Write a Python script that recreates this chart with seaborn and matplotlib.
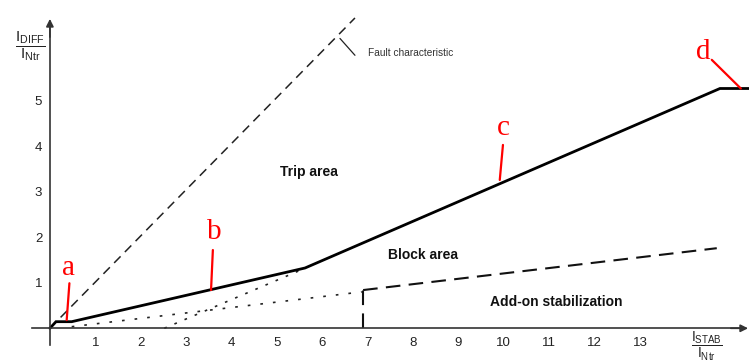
import matplotlib
matplotlib.use("Agg")
import matplotlib.pyplot as plt
import seaborn as sns
import pandas as pd

# ---- data ----
fault_x = [0.0, 6.72]
fault_y = [0.0, 6.82]

char_x = [0.0, 0.134, 0.48, 5.62, 14.76, 15.45]
char_y = [0.0, 0.145, 0.145, 1.325, 5.27, 5.27]

slope1_ext_x = [0.48, 6.87]
slope1_ext_y = [0.035, 0.80]

slope2_ext_x = [2.52, 5.55]
slope2_ext_y = [0.0, 1.29]

addon_x = [6.90, 14.69]
addon_y = [0.84, 1.76]
addon_vert_x = [6.90, 6.90]
addon_vert_y = [0.0, 0.84]

x_ticks = list(range(1, 14))
y_ticks = list(range(1, 6))

letters = ["a", "b", "c", "d"]
letter_pos = [(0.40, 1.33), (3.61, 2.12), (9.98, 4.40), (14.39, 6.07)]
leader_from = [(0.43, 0.99), (3.59, 1.72), (9.98, 4.03), (14.58, 5.90)]
leader_to = [(0.37, 0.18), (3.55, 0.84), (9.91, 3.26), (15.22, 5.27)]

area_labels = ["Trip area", "Block area", "Add-on stabilization"]
area_pos = [(5.07, 3.44), (7.45, 1.61), (9.69, 0.58)]

# ---- style ----
sns.set_theme(style="white")
plt.rcParams["font.family"] = ["Liberation Sans", "DejaVu Sans"]
plt.rcParams["mathtext.fontset"] = "custom"
plt.rcParams["mathtext.rm"] = "Liberation Sans"
plt.rcParams["mathtext.it"] = "Liberation Sans:italic"
plt.rcParams["mathtext.bf"] = "Liberation Sans:bold"

axis_col = "#333333"

fig = plt.figure(figsize=(7.49, 3.63), dpi=100)
ax = fig.add_axes([0, 0, 1, 1])
ax.set_xlim(-1.099, 15.40)
ax.set_ylim(-0.763, 7.215)
ax.set_facecolor("white")


def line(xs, ys, **kw):
    df = pd.DataFrame({"x": xs, "y": ys})
    sns.lineplot(data=df, x="x", y="y", ax=ax, sort=False, estimator=None,
                 legend=False, **kw)


# fault characteristic
line(fault_x, fault_y, color="#222222", lw=1.1, linestyle=(0, (6, 4)))
# dotted extensions
line(slope1_ext_x, slope1_ext_y, color="#222222", lw=1.2, linestyle=(0, (1.6, 6)))
line(slope2_ext_x, slope2_ext_y, color="#222222", lw=1.2, linestyle=(0, (1.6, 5)))
# add-on stabilization
line(addon_x, addon_y, color="#111111", lw=1.5, linestyle=(0, (7, 4)))
line(addon_vert_x, addon_vert_y, color="#111111", lw=1.5, linestyle=(0, (7, 4)))
# tripping characteristic
line(char_x, char_y, color="black", lw=2.0, solid_joinstyle="miter")

# leader for fault characteristic label
line([6.39, 6.72], [6.37, 6.0], color="#222222", lw=0.9)
ax.text(7.0, 6.05, "Fault characteristic", fontsize=7.3, color="#333333",
        ha="left", va="center")

for (tx, ty), t in zip(area_pos, area_labels):
    ax.text(tx, ty, t, fontsize=10, fontweight="bold", color="#111111",
            ha="left", va="center")

for t, (lx, ly), (fx, fy), (ex, ey) in zip(letters, letter_pos, leader_from, leader_to):
    line([fx, ex], [fy, ey], color="#ff0000", lw=1.6)
    ax.text(lx, ly, t, fontsize=21, color="#ff0000", ha="center", va="center",
            family=["Liberation Serif", "DejaVu Serif"])

# ---- axes ----
for s in ["top", "right"]:
    ax.spines[s].set_visible(False)
ax.spines["left"].set_position(("data", 0))
ax.spines["bottom"].set_position(("data", 0))
ax.spines["left"].set_bounds(-0.37, 6.6)
ax.spines["bottom"].set_bounds(-0.39, 15.2)
for s in ["left", "bottom"]:
    ax.spines[s].set_color(axis_col)
    ax.spines[s].set_linewidth(1.2)

ax.annotate("", xy=(0, 6.80), xytext=(0, 6.4),
            arrowprops=dict(arrowstyle="-|>", color=axis_col, lw=1.2,
                            mutation_scale=11, shrinkA=0, shrinkB=0))
ax.annotate("", xy=(15.38, 0), xytext=(15.0, 0),
            arrowprops=dict(arrowstyle="-|>", color=axis_col, lw=1.2,
                            mutation_scale=11, shrinkA=0, shrinkB=0))

ax.set_xticks(x_ticks)
ax.set_yticks(y_ticks)
ax.set_xticklabels([str(v) for v in x_ticks])
ax.set_yticklabels([str(v) for v in y_ticks])
ax.tick_params(axis="x", direction="out", length=3, width=1, colors=axis_col,
               labelsize=9.5, pad=3.3, labelcolor="#222222")
ax.tick_params(axis="y", direction="out", length=3, width=1, colors=axis_col,
               labelsize=9.5, pad=2.5, labelcolor="#222222")
ax.set_xlabel("")
ax.set_ylabel("")

ax.text(-0.44, 6.2, r"$\dfrac{\mathrm{I}_{\mathrm{DIFF}}}{\mathrm{I}_{\mathrm{Ntr}}}$",
        fontsize=11, color="#222222", ha="center", va="center")
ax.text(14.47, -0.40, r"$\dfrac{\mathrm{I}_{\mathrm{STAB}}}{\mathrm{I}_{\mathrm{Ntr}}}$",
        fontsize=10, color="#222222", ha="center", va="center")

fig.savefig("out.png", dpi=100)
